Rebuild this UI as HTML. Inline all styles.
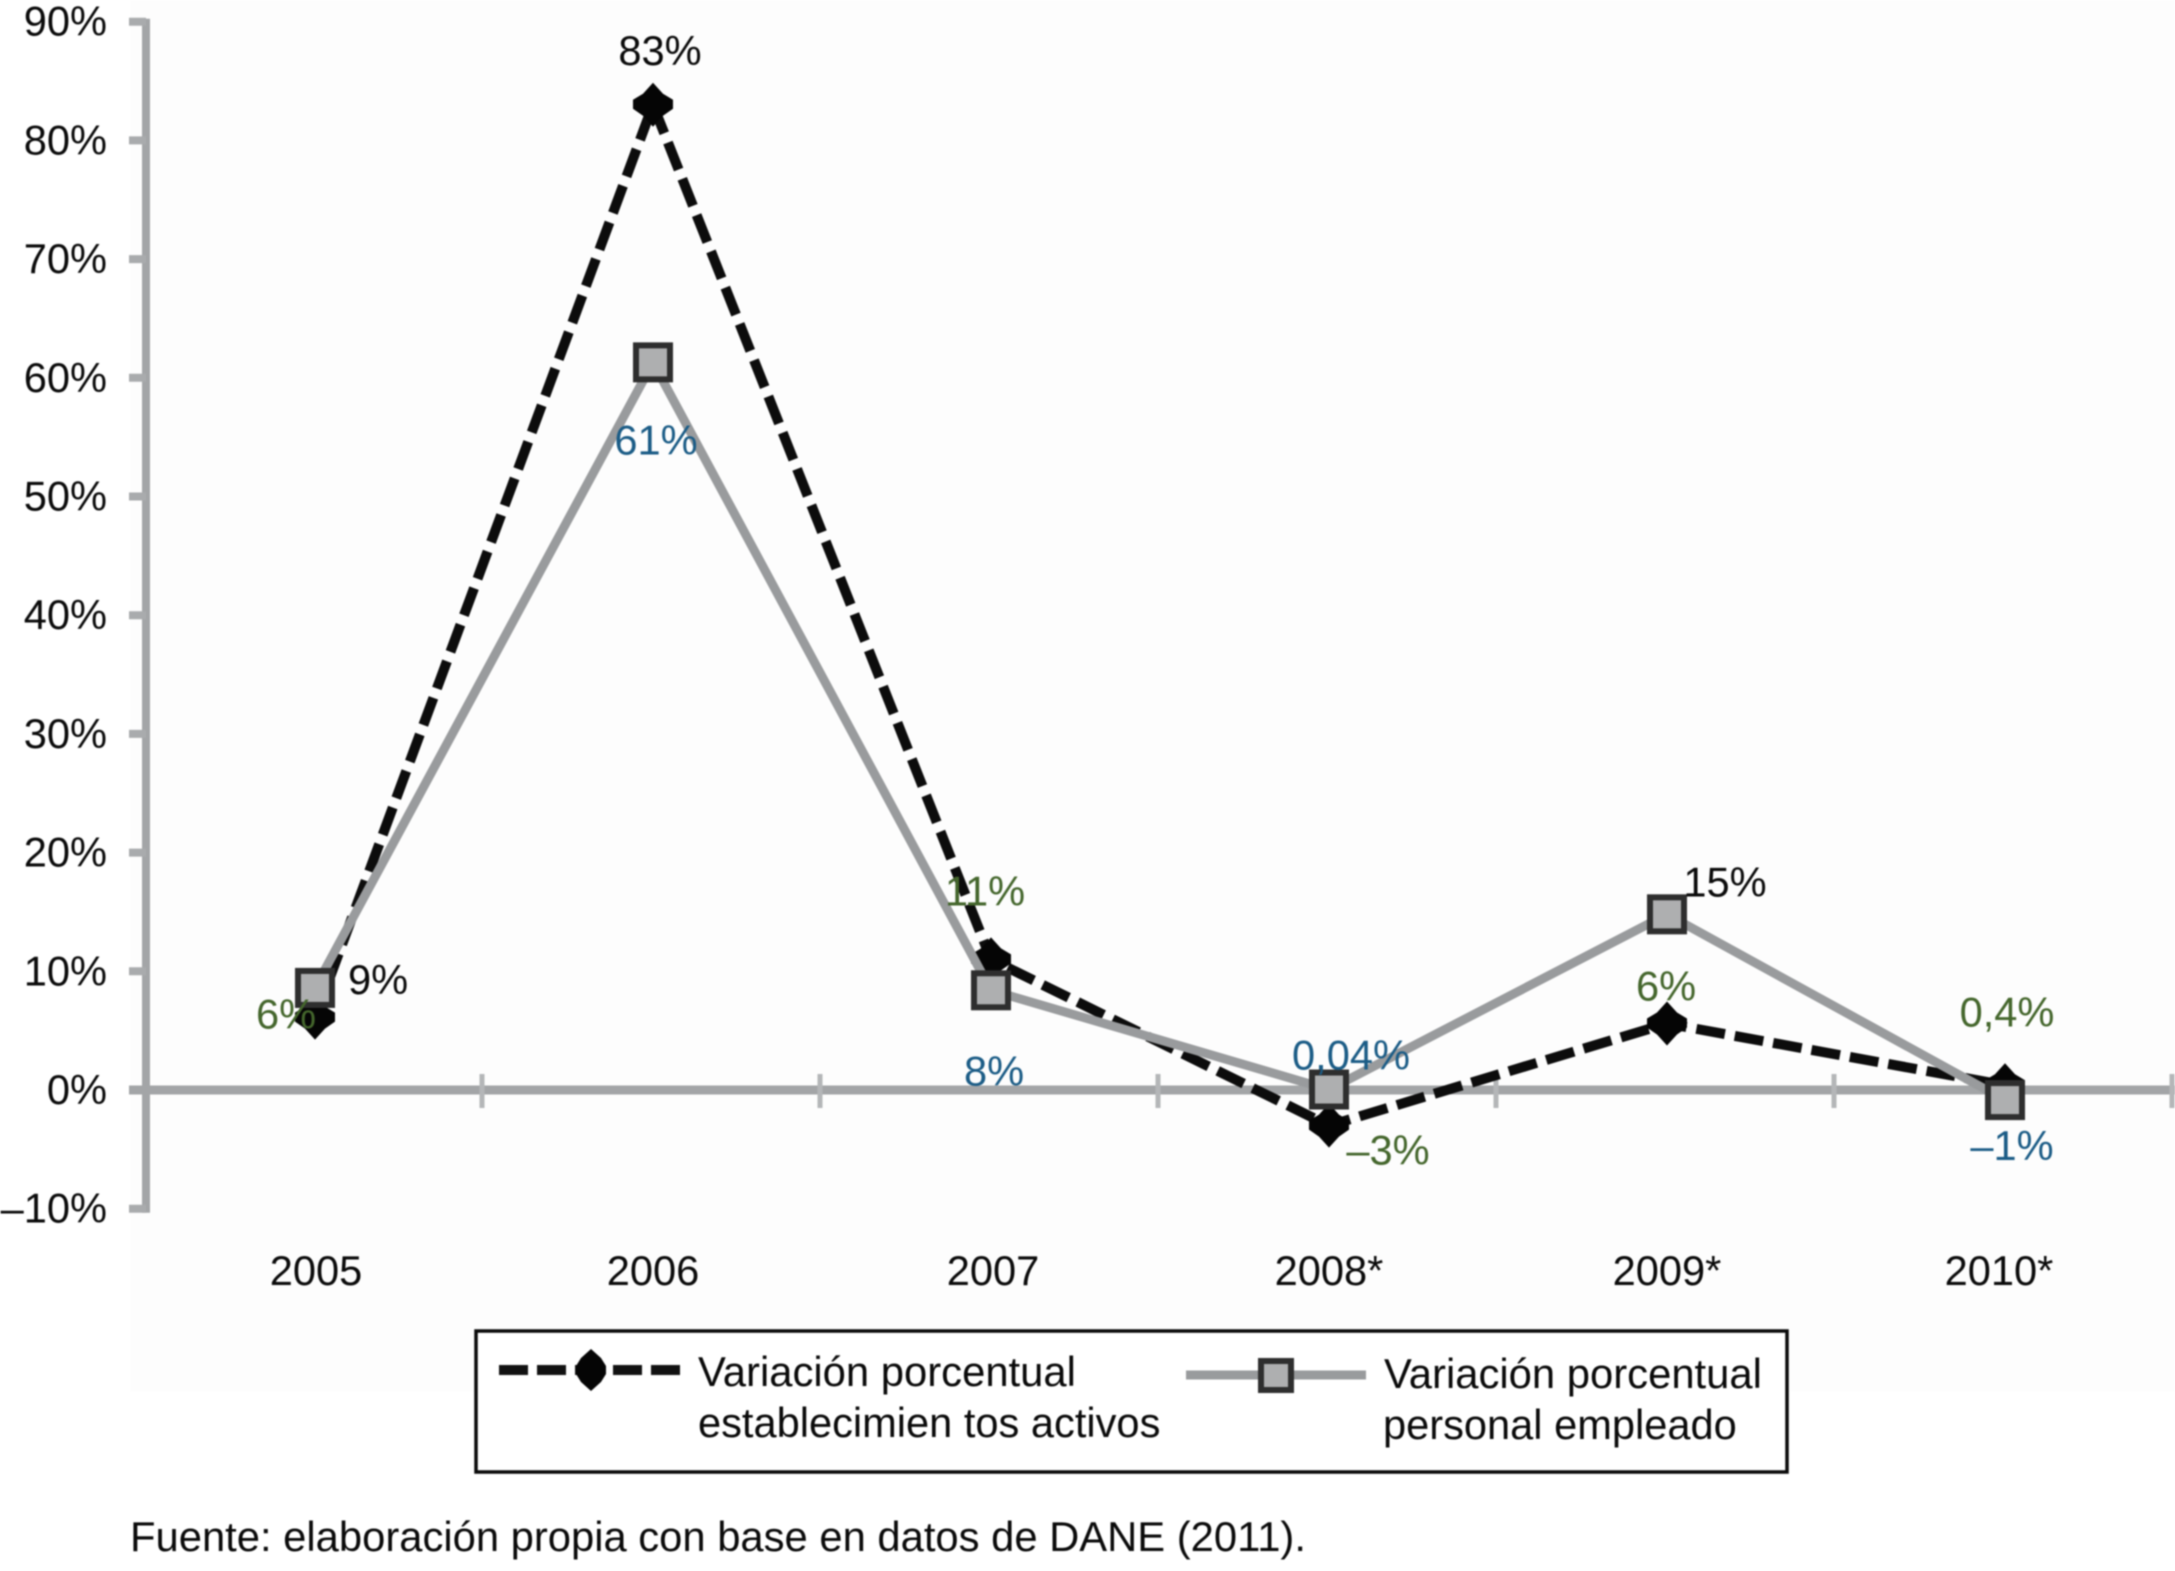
<!DOCTYPE html>
<html lang="es">
<head>
<meta charset="utf-8">
<title>Variación porcentual</title>
<style>
html,body{margin:0;padding:0;background:#fff;width:2175px;height:1571px;overflow:hidden}
svg{display:block;filter:blur(0.7px)}
text{font-family:"Liberation Sans",Arial,sans-serif;font-size:41.6px;fill:#0a0a0a}
</style>
</head>
<body>
<svg id="chart" xmlns="http://www.w3.org/2000/svg" width="2175" height="1571" viewBox="0 0 2175 1571">
  <rect x="130" y="0" width="2045" height="1392" fill="#fdfdfd"/>
  <g id="axes"></g>
  <g id="series"></g>
  <g id="labels"></g>
  <g>
    <rect x="476" y="1331" width="1311" height="141" fill="#fff" stroke="#0a0a0a" stroke-width="3.5"/>
    <g>
      <line x1="499" y1="1370" x2="682" y2="1370" stroke="#111" stroke-width="10" stroke-dasharray="29 9"/>
      <path d="M591 1349 L601 1358 L606 1366 L606 1374 L601 1382 L591 1391 L581 1382 L576 1374 L576 1366 L581 1358 Z" fill="#050505"/>
      <text x="698" y="1386" style="font-size:41.8px">Variación porcentual</text>
      <text x="698" y="1437">establecimien tos activos</text>
    </g>
    <g>
      <line x1="1186" y1="1375" x2="1366" y2="1375" stroke="#999b9d" stroke-width="9"/>
      <rect x="1261" y="1361" width="30" height="29" fill="#aeafb0" stroke="#2e2e2e" stroke-width="6"/>
      <text x="1384" y="1388" style="font-size:41.8px">Variación porcentual</text>
      <text x="1383" y="1439">personal empleado</text>
    </g>
  </g>
  <text x="130" y="1551" style="font-size:41.75px">Fuente: elaboración propia con base en datos de DANE (2011).</text>
</svg>
<script>
const categories = ['2005', '2006', '2007', '2008*', '2009*', '2010*'];
const yTicks = [90, 80, 70, 60, 50, 40, 30, 20, 10, 0, -10];
const yTickLabels = ['90%', '80%', '70%', '60%', '50%', '40%', '30%', '20%', '10%', '0%', '–10%'];
const establecimientos = [6.1, 83, 11, -3, 5.6, 0.4];
const personal = [8.6, 61.3, 8.4, 0.04, 14.8, -0.85];
const establecimientosLabels = ['6%', '83%', '11%', '–3%', '6%', '0,4%'];
const personalLabels = ['9%', '61%', '8%', '0,04%', '15%', '–1%'];
const NS = 'http://www.w3.org/2000/svg';
const xScale = i => 315 + i * 338;
const yScale = v => 1090 - v * 11.87;
const GREEN = '#44662c', BLUE = '#1b5c86', INK = '#0a0a0a';
function make(tag, attrs, parent) {
  const node = document.createElementNS(NS, tag);
  for (const k in attrs) node.setAttribute(k, attrs[k]);
  parent.appendChild(node);
  return node;
}
function categoryLabelNudge(i) {
  return [1, 0, 2, 0, 0, -6][i];
}
function establecimientosLabelStyle(i) {
  const dx = [-29, 7, -6, 59, -1, 2][i];
  const dy = [-4, -55, -69, 24, -38, -74][i];
  const fill = [GREEN, INK, GREEN, GREEN, GREEN, GREEN][i];
  return { dx, dy, fill };
}
function personalLabelStyle(i) {
  const dx = [63, 3, 3, 22, 58, 7][i];
  const dy = [-9, 77, 80, -35, -33, 45][i];
  const fill = [INK, BLUE, BLUE, BLUE, INK, BLUE][i];
  return { dx, dy, fill };
}
const axes = document.getElementById('axes');
const seriesLayer = document.getElementById('series');
const labelLayer = document.getElementById('labels');

const yAxis = make('line', { x1: 146, y1: yScale(90) - 3, x2: 146, y2: yScale(-10) + 4, stroke: '#a3a5a7', 'stroke-width': 8 }, axes);


yTicks.forEach((t, i) => {
  const tick = make('line', { x1: 129, y1: yScale(t), x2: 146, y2: yScale(t), stroke: '#a9abad', 'stroke-width': 8 }, axes);
  
  
  const label = make('text', { x: 107, y: yScale(t) + 14, 'text-anchor': 'end' }, axes);
  label.textContent = yTickLabels[i];
  
  
});
const xAxis = make('line', { x1: 129, y1: yScale(0), x2: 2175, y2: yScale(0), stroke: '#a3a5a7', 'stroke-width': 9 }, axes);


categories.forEach((c, i) => {
  const tick = make('line', { x1: xScale(i) + 167, y1: yScale(0) - 16, x2: xScale(i) + 167, y2: yScale(0) + 18, stroke: '#b4b6b8', 'stroke-width': 5 }, axes);
  
  
  const label = make('text', { x: xScale(i) + categoryLabelNudge(i), y: 1285, 'text-anchor': 'middle' }, axes);
  label.textContent = c;
  
  
});

const pts = vals => vals.map((v, i) => xScale(i) + ',' + yScale(v)).join(' ');

const lineA = make('polyline', { points: pts(establecimientos), fill: 'none', stroke: '#0c0c0c', 'stroke-width': 10, 'stroke-dasharray': '29 10' }, seriesLayer);


establecimientos.forEach((v, i) => {
  const x = xScale(i), y = yScale(v);
  const m = make('path', { d: `M${x} ${y - 22} L${x + 10} ${y - 11} L${x + 20} ${y - 5} L${x + 20} ${y + 4} L${x + 10} ${y + 11} L${x} ${y + 22} L${x - 10} ${y + 11} L${x - 20} ${y + 4} L${x - 20} ${y - 5} L${x - 10} ${y - 11} Z`, fill: '#050505' }, seriesLayer);
  
  
});

const lineB = make('polyline', { points: pts(personal), fill: 'none', stroke: '#999b9d', 'stroke-width': 9 }, seriesLayer);


personal.forEach((v, i) => {
  const x = xScale(i), y = yScale(v);
  const m = make('rect', { x: x - 17, y: y - 17, width: 34, height: 34, fill: '#aeafb0', stroke: '#2e2e2e', 'stroke-width': 6 }, seriesLayer);
  
  
});

establecimientosLabels.forEach((t, i) => {
  const s = establecimientosLabelStyle(i);
  const label = make('text', { x: xScale(i) + s.dx, y: yScale(establecimientos[i]) + s.dy + 15, 'text-anchor': 'middle', style: 'fill:' + s.fill }, labelLayer);
  label.textContent = t;
  
  
});
personalLabels.forEach((t, i) => {
  const s = personalLabelStyle(i);
  const label = make('text', { x: xScale(i) + s.dx, y: yScale(personal[i]) + s.dy + 15, 'text-anchor': 'middle', style: 'fill:' + s.fill }, labelLayer);
  label.textContent = t;
  
  
});
</script>
</body>
</html>
